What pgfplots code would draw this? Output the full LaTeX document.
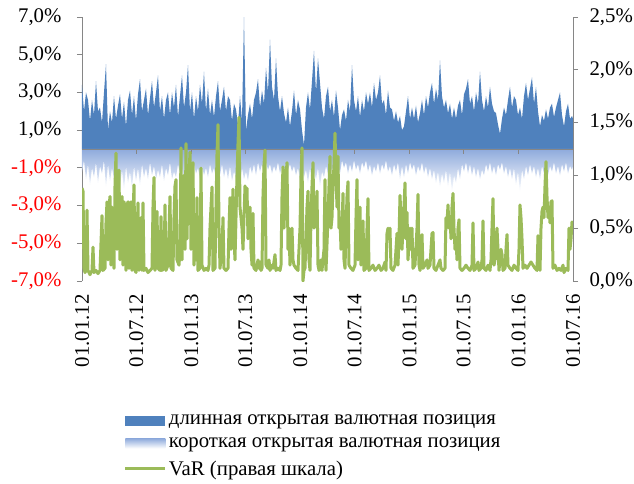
\documentclass[border=0pt]{standalone}
\usepackage{pgfplots}
\pgfplotsset{compat=1.18}
\usepackage{pgfplotstable}
\usepackage{fontspec}
\setmainfont{Liberation Serif}
\definecolor{longblue}{RGB}{79,129,189}
\definecolor{shortblue}{RGB}{142,170,220}
\definecolor{vargreen}{RGB}{155,187,89}
\definecolor{axgray}{RGB}{134,134,134}

% t = position along the time axis (82 = 01.01.12, 573 = 01.07.16), l = long, s = short (%)
\pgfplotstableread{
t l s
82 3.4 -1.2
84 2.0 -0.6
86 3.0 -1.6
88 2.6 -0.8
90 1.5 -1.9
92 2.6 -1.0
94 1.8 -1.5
96 3.6 -0.7
98 2.0 -1.8
100 2.2 -0.9
102 1.4 -1.3
104 3.0 -0.6
106 4.5 -2.0
108 1.0 -0.8
110 2.0 -1.7
112 1.4 -1.0
114 2.8 -1.6
116 1.6 -0.7
118 2.3 -1.4
120 2.9 -2.0
122 1.6 -1.1
124 2.5 -2.2
126 1.2 -0.9
128 2.6 -1.8
130 3.1 -1.2
132 1.8 -2.1
134 2.8 -0.9
136 1.5 -1.7
138 2.9 -1.0
140 3.7 -1.9
142 2.0 -0.8
144 2.6 -1.5
146 3.2 -1.0
148 1.8 -1.6
150 2.7 -0.7
152 3.6 -1.4
154 2.2 -0.9
156 3.0 -1.6
158 3.9 -1.1
160 2.0 -1.5
162 2.8 -0.8
164 1.6 -1.7
166 2.6 -1.0
168 3.0 -1.4
170 1.8 -0.7
172 3.0 -1.6
174 2.2 -1.2
176 3.4 -1.5
178 1.7 -0.8
180 2.8 -1.3
182 3.9 -1.0
184 2.2 -1.6
186 3.0 -0.9
188 4.45 -1.4
190 2.0 -1.1
192 3.0 -1.5
194 1.6 -0.8
196 2.8 -1.3
198 2.0 -1.0
200 3.4 -1.6
202 2.4 -0.9
204 4.1 -1.4
206 2.0 -1.0
208 3.2 -1.5
210 1.8 -0.8
212 2.6 -1.3
214 1.7 -1.0
216 2.8 -1.6
218 3.6 -1.1
220 2.0 -1.4
222 2.6 -0.8
224 3.3 -1.5
226 2.0 -1.0
228 2.8 -1.6
230 2.6 -0.9
232 1.5 -1.7
234 2.4 -1.2
236 2.1 -1.5
238 1.3 -0.9
240 2.8 -1.8
242 1.5 -1.0
244 7.0 -1.6
246 1.0 -1.2
248 1.8 -1.7
250 2.4 -0.9
252 1.6 -1.3
254 2.6 -0.8
256 3.0 -1.4
258 3.7 -0.7
260 2.2 -1.2
262 3.1 -0.8
264 2.4 -1.3
266 4.3 -0.7
268 3.0 -1.1
270 5.8 -0.8
272 3.3 -1.3
274 2.6 -0.9
276 4.8 -1.2
278 2.8 -0.7
280 2.0 -1.3
282 2.8 -0.9
284 1.9 -1.4
286 1.4 -0.7
288 2.2 -1.1
290 1.2 -0.8
292 2.0 -1.2
294 3.1 -0.9
296 1.8 -1.4
298 2.6 -1.0
300 2.1 -1.6
302 1.0 -0.9
304 0.2 -1.5
306 2.2 -1.1
308 3.0 -1.8
310 2.1 -1.0
312 3.6 -1.9
314 5.2 -1.2
316 3.0 -1.6
318 4.8 -1.0
320 3.5 -2.0
322 2.2 -1.2
324 1.6 -1.5
326 2.8 -0.9
328 3.3 -1.3
330 2.0 -0.8
332 2.6 -1.2
334 1.7 -0.7
336 3.1 -1.1
338 2.2 -0.8
340 1.0 -1.3
342 1.8 -0.6
344 2.1 -1.0
346 1.5 -0.7
348 2.6 -1.3
350 2.0 -0.8
352 4.45 -1.2
354 2.6 -0.6
356 2.0 -1.1
358 2.8 -0.8
360 1.7 -1.3
362 2.6 -0.7
364 2.0 -1.0
366 3.0 -0.6
368 2.4 -1.2
370 3.0 -0.8
372 2.2 -1.4
374 3.5 -0.9
376 2.6 -1.2
378 3.0 -0.7
380 3.9 -1.3
382 2.4 -0.8
384 2.6 -1.1
386 1.8 -0.6
388 3.1 -1.2
390 2.2 -0.9
392 2.1 -1.4
394 1.5 -0.8
396 2.0 -1.2
398 1.4 -0.7
400 1.75 -1.6
402 1.0 -0.9
404 1.2 -1.5
406 2.0 -0.8
408 2.8 -1.3
410 1.6 -0.7
412 2.2 -1.1
414 1.6 -0.8
416 2.3 -1.4
418 1.4 -0.9
420 1.9 -1.2
422 2.6 -0.7
424 1.8 -1.3
426 2.8 -0.9
428 2.2 -1.5
430 3.0 -1.0
432 3.5 -1.6
434 2.4 -1.1
436 3.2 -1.8
438 2.6 -1.2
440 4.7 -2.0
442 2.8 -1.3
444 2.2 -1.8
446 2.6 -1.1
448 1.9 -2.0
450 2.4 -1.2
452 1.6 -2.3
454 2.2 -1.4
456 1.6 -1.8
458 2.3 -1.0
460 2.6 -1.6
462 1.8 -0.8
464 2.9 -1.2
466 3.2 -0.7
468 3.7 -1.3
470 2.4 -0.8
472 2.8 -1.4
474 2.0 -0.9
476 3.0 -1.5
478 2.4 -1.0
480 4.1 -1.6
482 2.6 -1.1
484 2.0 -1.4
486 2.8 -0.8
488 2.2 -1.2
490 3.3 -0.7
492 2.4 -1.3
494 2.0 -0.9
496 1.9 -1.4
498 1.3 -0.8
500 0.8 -1.1
502 1.6 -0.7
504 2.2 -1.3
506 1.8 -0.9
508 2.6 -1.5
510 3.3 -1.0
512 2.2 -1.6
514 2.8 -1.0
516 2.6 -1.9
518 1.8 -1.2
520 2.2 -2.3
522 1.6 -1.1
524 2.8 -1.6
526 3.5 -0.9
528 2.6 -1.4
530 3.2 -0.8
532 3.8 -1.3
534 2.4 -0.9
536 3.3 -1.5
538 2.0 -1.0
540 1.2 -1.6
542 1.8 -0.9
544 1.5 -1.3
546 2.1 -0.8
548 1.6 -1.4
550 2.2 -0.9
552 2.4 -1.2
554 1.7 -0.7
556 2.2 -1.3
558 2.6 -0.9
560 3.0 -1.4
562 1.8 -0.8
564 1.2 -1.2
566 2.0 -0.7
568 2.4 -1.3
570 1.6 -0.9
572 1.75 -1.1
573 1.6 -0.9
}\posdata

% VaR (%), right scale
\pgfplotstableread{
t v
82 0.88
83 0.85
84 0.12
85 0.08
86 0.1
87 0.67
88 0.1
90 0.06
92 0.1
93 0.32
94 0.08
96 0.1
98 0.07
100 0.1
102 0.62
103 0.1
105 0.12
106 0.55
107 0.75
108 0.2
109 0.7
110 0.8
111 0.15
112 0.7
113 0.5
114 0.12
115 0.9
116 1.21
117 0.3
118 1.0
119 1.05
120 0.2
121 0.6
122 0.8
123 0.15
124 0.75
125 0.7
126 0.1
127 0.72
128 0.75
129 0.12
130 0.7
131 0.75
132 0.1
133 0.6
134 0.91
135 0.1
136 0.08
137 0.4
138 0.74
139 0.1
141 0.6
142 0.1
143 0.74
144 0.1
146 0.12
148 0.08
150 0.1
152 0.12
153 0.7
154 0.98
155 0.1
157 0.66
158 0.12
160 0.1
161 0.61
162 0.1
164 0.12
165 0.72
166 0.1
168 0.15
170 0.8
171 0.12
173 0.1
174 0.6
175 0.9
176 0.96
177 0.2
179 0.15
180 0.3
181 1.26
182 0.2
183 0.9
184 1.0
185 0.3
186 1.3
187 0.4
188 0.9
189 1.0
190 1.22
191 0.3
192 0.6
193 1.12
194 0.15
195 0.5
196 0.2
197 0.79
198 0.1
200 0.12
201 1.07
202 0.15
204 0.1
206 0.12
208 0.1
209 0.15
210 0.5
211 0.7
212 0.89
213 0.1
215 0.12
216 0.7
217 1.2
218 1.48
219 0.5
220 0.12
222 0.3
223 0.6
224 0.12
226 0.1
228 0.12
229 0.5
230 0.79
231 0.3
232 0.6
233 0.87
234 0.4
235 0.2
236 0.6
237 1.0
238 1.3
239 1.55
240 0.7
241 0.6
242 0.5
243 0.3
244 0.6
245 0.9
246 0.75
247 0.88
248 0.4
249 0.5
250 0.7
251 0.3
252 0.15
253 0.64
254 0.12
256 0.1
258 0.2
259 0.12
260 0.18
261 0.1
262 0.12
263 0.8
264 1.1
265 1.24
266 0.15
268 0.12
269 0.2
270 0.1
272 0.15
273 0.12
275 0.25
276 0.1
278 0.12
280 0.1
281 0.15
282 0.8
283 1.08
284 0.5
285 0.8
286 1.0
287 1.12
288 0.3
289 0.5
290 0.15
291 0.4
292 0.5
293 0.2
294 0.15
296 0.12
298 0.1
300 0.5
301 1.0
302 1.26
303 0.0
304 0.1
305 0.12
306 0.4
307 0.7
308 0.85
309 0.2
310 0.1
311 0.6
312 0.9
313 1.12
314 0.5
315 0.7
316 0.6
317 0.85
318 0.15
319 0.1
320 0.12
321 0.2
322 0.1
324 0.3
325 0.96
326 0.1
328 0.6
329 0.9
330 1.18
331 0.5
332 0.6
333 0.9
334 1.1
335 1.4
336 1.0
337 0.7
338 1.18
339 0.5
340 0.6
341 0.3
342 0.5
343 0.83
344 0.2
345 0.12
346 0.5
347 0.8
348 0.94
349 0.15
351 0.12
353 0.1
355 0.15
356 0.6
357 0.96
358 0.2
359 0.5
360 0.70
361 0.15
362 0.3
363 0.57
364 0.1
366 0.12
367 0.5
368 0.78
369 0.1
371 0.12
373 0.15
375 0.1
377 0.12
379 0.15
381 0.1
383 0.12
385 0.18
386 0.1
387 0.45
388 0.5
389 0.4
390 0.5
391 0.12
393 0.1
395 0.15
396 0.3
397 0.45
398 0.15
399 0.4
400 0.81
401 0.6
402 0.3
403 0.5
404 0.7
405 0.93
406 0.4
407 0.65
408 0.2
409 0.35
410 0.5
411 0.3
412 0.5
413 0.12
415 0.15
417 0.5
418 0.82
419 0.15
420 0.1
421 0.3
422 0.44
423 0.12
425 0.15
427 0.2
428 0.12
430 0.15
432 0.45
433 0.46
434 0.12
436 0.1
438 0.15
440 0.2
441 0.12
443 0.1
445 0.12
446 0.6
447 0.55
448 0.72
449 0.5
450 0.6
451 0.4
452 0.7
453 0.83
454 0.5
455 0.3
456 0.4
457 0.2
458 0.5
459 0.58
460 0.12
462 0.1
464 0.12
466 0.15
468 0.12
470 0.1
472 0.15
473 0.55
474 0.1
476 0.12
478 0.18
479 0.1
481 0.12
482 0.2
483 0.57
484 0.12
486 0.1
488 0.15
490 0.1
491 0.2
492 0.5
493 0.78
494 0.15
495 0.2
496 0.4
497 0.5
498 0.3
499 0.1
500 0.2
501 0.3
502 0.25
503 0.1
505 0.12
506 0.3
507 0.44
508 0.15
510 0.12
512 0.1
514 0.15
516 0.12
518 0.1
519 0.3
520 0.72
521 0.6
522 0.4
523 0.12
525 0.15
527 0.12
529 0.15
531 0.18
533 0.15
535 0.12
537 0.1
538 0.43
539 0.3
540 0.1
541 0.5
542 0.66
543 0.7
544 0.6
545 0.9
546 1.13
547 0.8
548 0.6
549 0.7
550 0.55
551 0.75
552 0.76
553 0.12
555 0.15
557 0.1
559 0.12
561 0.1
563 0.15
564 0.08
566 0.12
568 0.1
569 0.5
570 0.3
571 0.4
572 0.56
573 0.5
}\vardata

\begin{document}
\begin{tikzpicture}[font=\fontsize{20.8}{24}\selectfont]
\useasboundingbox (-82pt,-203pt) rectangle (552pt,281pt);
\begin{axis}[
  at={(0pt,0pt)}, anchor=south west,
  scale only axis, width=491pt, height=264pt,
  xmin=0, xmax=1643, ymin=-7, ymax=7,
  axis x line*=bottom, axis y line*=left,
  x axis line style={draw=none},
  xtick={0,182,366,547,731,912,1096,1277,1461,1643},
  xticklabels={01.01.12,01.07.12,01.01.13,01.07.13,01.01.14,01.07.14,01.01.15,01.07.15,01.01.16,01.07.16},
  xticklabel style={rotate=90, anchor=east},
  xticklabel shift=5pt,
  xtick style={draw=none},
  ytick={-7,-5,-3,-1,1,3,5,7},
  yticklabels={{\textcolor{red}{-7,0\%}},{\textcolor{red}{-5,0\%}},{\textcolor{red}{-3,0\%}},{\textcolor{red}{-1,0\%}},{1,0\%},{3,0\%},{5,0\%},{7,0\%}},
  yticklabel style={xshift=-12pt},
  y axis line style={axgray, line width=0.9pt},
  ytick style={axgray, line width=0.9pt},
  tick align=outside, major tick length=5pt,
]
\addplot[fill=longblue, draw=none] table[x expr=(\thisrow{t}-82)*3.34623, y=l]{\posdata} \closedcycle;
\addplot[draw=none, top color=shortblue, bottom color=white] table[x expr=(\thisrow{t}-82)*3.34623, y=s]{\posdata} \closedcycle;
\draw[axgray, line width=0.9pt] (axis cs:0,0) -- (axis cs:1643,0);
\pgfplotsinvokeforeach{182,366,547,731,912,1096,1277,1461,1643}{
  \draw[axgray, line width=0.9pt] (axis cs:#1,0) -- ++(0pt,-5pt);
}
\end{axis}
\begin{axis}[
  at={(0pt,0pt)}, anchor=south west,
  scale only axis, width=491pt, height=264pt,
  xmin=0, xmax=1643, ymin=0, ymax=2.5,
  axis x line=none, axis y line*=right,
  ytick={0,0.5,1,1.5,2,2.5},
  yticklabels={{0,0\%},{0,5\%},{1,0\%},{1,5\%},{2,0\%},{2,5\%}},
  yticklabel style={xshift=8pt},
  y axis line style={axgray, line width=0.9pt},
  ytick style={axgray, line width=0.9pt},
  tick align=outside, major tick length=5pt,
  legend style={draw=none, fill=none, inner sep=0pt, outer sep=0pt,
    at={(rel axis cs:0.0855,-0.50)}, anchor=north west,
    row sep=7.5pt, font=\fontsize{20.8}{24}\selectfont},
  legend cell align=left,
]
\addlegendimage{draw=none, legend image code/.code={\fill[longblue, draw=none] (0pt,-5pt) rectangle (40pt,5pt);}}
\addlegendentry{длинная открытая валютная позиция}
\addlegendimage{draw=none, legend image code/.code={\shade[draw=none, top color=shortblue, bottom color=white] (0pt,-5pt) rectangle (40pt,5pt);}}
\addlegendentry{короткая открытая валютная позиция}
\addplot[vargreen, line width=3pt, line join=round,
  legend image code/.code={\draw[vargreen, line width=3pt] (0pt,0pt) -- (40pt,0pt);}]
  table[x expr=(\thisrow{t}-82)*3.34623, y=v]{\vardata};
\addlegendentry{VaR (правая шкала)}
\end{axis}
\end{tikzpicture}
\end{document}
